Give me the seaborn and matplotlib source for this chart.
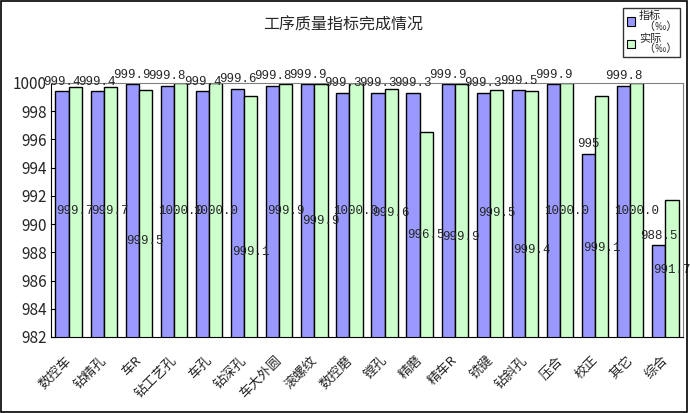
import pandas as pd
import matplotlib.pyplot as plt
import matplotlib.transforms as mtransforms
import seaborn as sns
from matplotlib.patches import Rectangle

# categories and values
processes = ["数控车", "钻精孔", "车R", "钻工艺孔", "车孔", "钻深孔", "车大外圆", "滚螺纹", "数控磨",
             "镗孔", "精磨", "精车R", "铣键", "钻斜孔", "压合", "校正", "其它", "综合"]
target = [999.4, 999.4, 999.9, 999.8, 999.4, 999.6, 999.8, 999.9, 999.3,
          999.3, 999.3, 999.9, 999.3, 999.5, 999.9, 995.0, 999.8, 988.5]
actual = [999.7, 999.7, 999.5, 1000.0, 1000.0, 999.1, 999.9, 999.9, 1000.0,
          999.6, 996.5, 999.9, 999.5, 999.4, 1000.0, 999.1, 1000.0, 991.7]
series = ["指标\n  （‰）", "实际\n  （‰）"]
colors = ["#9999FF", "#CCFFCC"]

# where the "actual" labels sit in the original (data units)
actual_label_y = [990.9, 990.9, 988.8, 990.95, 990.95, 988.0, 990.9, 990.2, 990.95,
                  990.8, 989.2, 989.1, 990.8, 988.2, 990.95, 988.3, 990.95, 986.75]

df = pd.DataFrame({
    "process": processes * 2,
    "value": target + actual,
    "series": [series[0]] * len(processes) + [series[1]] * len(processes),
})

sns.set_style("white")
plt.rcParams["font.family"] = ["Noto Sans CJK SC", "DejaVu Sans"]

fig = plt.figure(figsize=(6.9, 4.13), dpi=100)
ax = fig.add_axes([51 / 690, 1 - 337 / 413, 632 / 690, 254 / 413])

sns.barplot(data=df, x="process", y="value", hue="series", order=processes,
            hue_order=series, palette=colors, width=0.75, edgecolor="black",
            linewidth=1, saturation=1, ax=ax, legend=False)

ax.set_ylim(982, 1000)
ax.set_xlim(-0.5, len(processes) - 0.5)
ax.set_yticks(range(982, 1001, 2))
ax.set_xticks([i - 0.5 for i in range(len(processes) + 1)], minor=True)
ax.tick_params(axis="x", which="major", length=0, pad=12)
ax.tick_params(axis="x", which="minor", direction="in", length=4, color="black")
ax.tick_params(axis="y", direction="in", length=4, left=True, labelsize=11, color="black", pad=3)
ax.set_xticklabels(processes, rotation=45, ha="right", rotation_mode="anchor", fontsize=9.5)
shift = mtransforms.ScaledTranslation(-4 / 100, 0, fig.dpi_scale_trans)
for lab in ax.get_xticklabels():
    lab.set_transform(lab.get_transform() + shift)
ax.set_xlabel("")
ax.set_ylabel("")
for s in ["left", "bottom"]:
    ax.spines[s].set_color("black")
for s in ["top", "right"]:
    ax.spines[s].set_color("#808080")

label_font = dict(family="Liberation Mono", fontsize=9)
for bar, v in zip(ax.containers[0], target):
    ax.text(bar.get_x() + bar.get_width() / 2, v + 0.25, f"{v:g}", ha="center", va="bottom", **label_font)
for bar, v, ly in zip(ax.containers[1], actual, actual_label_y):
    ax.text(bar.get_x() + bar.get_width() / 2, ly, f"{v:.1f}", ha="center", va="center", **label_font)

fig.text(343 / 690, 1 - 25 / 413, "工序质量指标完成情况", ha="center", va="center", fontsize=11.5)

handles = [Rectangle((0, 0), 1, 1, facecolor=c, edgecolor="black", linewidth=0.8) for c in colors]
leg = fig.legend(handles, series, loc="upper right", bbox_to_anchor=(686 / 690, 1 - 2 / 413),
                 fontsize=8, frameon=True, fancybox=False, handlelength=0.8, handleheight=0.8,
                 handletextpad=0.3, labelspacing=0.15, borderpad=0.3)
leg.get_frame().set_edgecolor("black")
leg.get_frame().set_linewidth(1)
for t in leg.get_texts():
    t.set_linespacing(1.0)

# outer chart border
fig.patches.append(Rectangle((0.002, 0.003), 0.994, 0.994, transform=fig.transFigure,
                             fill=False, edgecolor="black", linewidth=1.2))

fig.savefig("out.png", dpi=100)
